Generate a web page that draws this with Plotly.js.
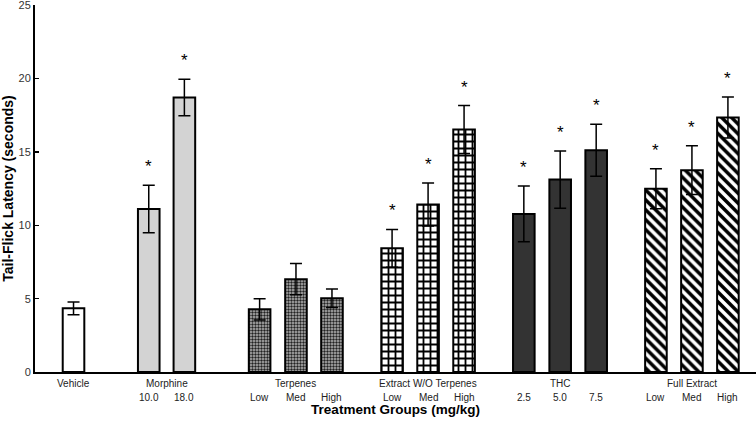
<!DOCTYPE html>
<html><head><meta charset="utf-8">
<script src="https://cdn.plot.ly/plotly-3.0.1.min.js"></script>
<style>html,body{margin:0;padding:0;background:#fff}#c{width:756px;height:425px}</style>
</head><body><div id="c"></div>
<script>
// Groups and bars
const groupNames = ["Vehicle","Morphine","Terpenes","Extract W/O Terpenes","THC","Full Extract"];
const groupPositions = [
  [0],
  [2.09, 3.08],
  [5.17, 6.18, 7.18],
  [8.85, 9.85, 10.85],
  [12.51, 13.52, 14.52],
  [16.18, 17.18, 18.18]
];
const subLabels = [
  [""],
  ["10.0","18.0"],
  ["Low","Med","High"],
  ["Low","Med","High"],
  ["2.5","5.0","7.5"],
  ["Low","Med","High"]
];
const means = [
  [4.34],
  [11.12, 18.71],
  [4.27, 6.33, 5.02],
  [8.43, 11.42, 16.53],
  [10.78, 13.12, 15.12],
  [12.49, 13.76, 17.35]
];
const sems = [
  [0.43],
  [1.62, 1.24],
  [0.72, 1.07, 0.63],
  [1.29, 1.47, 1.63],
  [1.9, 1.95, 1.77],
  [1.36, 1.66, 1.4]
];
const significant = [
  [false],
  [true, true],
  [false, false, false],
  [true, true, true],
  [true, true, true],
  [true, true, true]
];
const yTicks = [0,5,10,15,20,25];

const styles = [
  {color:"#ffffff"},
  {color:"#d3d3d3"},
  {color:"#999999", pattern:{shape:".", bgcolor:"#b8b8b8", fgcolor:"#222222", size:3, solidity:0.5, fillmode:"replace"}},
  {color:"#ffffff", pattern:{shape:"+", bgcolor:"#ffffff", fgcolor:"#000000", size:7, solidity:0.45, fillmode:"replace"}},
  {color:"#333333"},
  {color:"#ffffff", pattern:{shape:"\\", bgcolor:"#ffffff", fgcolor:"#000000", size:7, solidity:0.5, fillmode:"replace"}}
];

const traces = groupNames.map((g,i)=>{
  const m = Object.assign({line:{color:"#000",width:2}}, styles[i]);
  return {
    type:"bar", name:g, x:groupPositions[i], y:means[i], width:0.6,
    marker:m,
    error_y:{type:"data", array:sems[i], visible:true, color:"#000", thickness:1.5, width:6},
    hoverinfo:"skip", showlegend:false
  };
});

const FONT = "Liberation Sans, Arial";
const annotations = [];
groupNames.forEach((g,i)=>{
  const xs = groupPositions[i];
  const cx = xs.reduce((a,b)=>a+b,0)/xs.length;
  annotations.push({x:cx, y:-0.012, xref:"x", yref:"paper", text:g, showarrow:false,
    yanchor:"top", font:{family:FONT, size:10, color:"#222"}});
  xs.forEach((x,j)=>{
    if (subLabels[i][j]) annotations.push({x:x, y:-0.05, xref:"x", yref:"paper", text:subLabels[i][j], showarrow:false,
      yanchor:"top", font:{family:FONT, size:10, color:"#222"}});
    if (significant[i][j]) annotations.push({x:x, y:means[i][j]+sems[i][j], xref:"x", yref:"y", text:"*", showarrow:false,
      yanchor:"bottom", yshift:7, font:{family:FONT, size:17, color:"#000"}});
  });
});

const layout = {
  width:756, height:425,
  margin:{l:35, r:0, t:5, b:53},
  paper_bgcolor:"#fff", plot_bgcolor:"#fff",
  barmode:"overlay",
  xaxis:{range:[-1.07,18.96], showticklabels:false, ticks:"", showgrid:false, zeroline:false,
    showline:true, linecolor:"#000", linewidth:2,
    title:{text:"<b>Treatment Groups (mg/kg)</b>", standoff:32, font:{family:FONT, size:13.5, color:"#000"}}},
  yaxis:{range:[0,25.02], tickvals:yTicks, ticks:"inside", ticklen:4, tickwidth:1.5, tickcolor:"#000",
    ticklabeloverflow:"allow",
    showgrid:false, zeroline:false, showline:true, linecolor:"#000", linewidth:2,
    tickfont:{family:FONT, size:11, color:"#333"},
    title:{text:"<b>Tail-Flick Latency (seconds)</b>", standoff:2, font:{family:FONT, size:14, color:"#000"}}},
  annotations:annotations
};
Plotly.newPlot("c", traces, layout, {staticPlot:true, displayModeBar:false});
</script></body></html>
